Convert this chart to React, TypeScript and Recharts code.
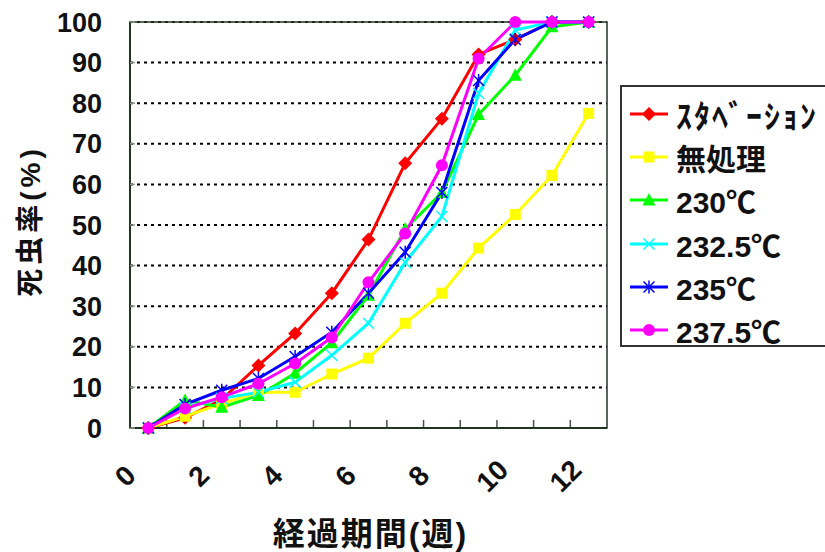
import React from "react"
import { LineChart, Line, XAxis, YAxis, CartesianGrid, Legend, Label, ReferenceArea, ReferenceLine } from "recharts"

const FONT = "'Liberation Sans', 'Noto Sans CJK JP', sans-serif"
const INK = "#111"

// weeks elapsed
const weeks = [0, 1, 2, 3, 4, 5, 6, 7, 8, 9, 10, 11, 12]
const weekLabels = [0, 2, 4, 6, 8, 10, 12]
const yTicks = [0, 10, 20, 30, 40, 50, 60, 70, 80, 90, 100]

// mortality (%)
const starvation = [0, 2.5, 7, 15.4, 23.3, 33.2, 46.4, 65.2, 76.2, 92, 95.7, 100, 100]
const untreated = [0, 2.9, 6, 8.8, 8.8, 13.3, 17.2, 25.8, 33.2, 44.3, 52.6, 62.2, 77.5]
const t230 = [0, 6.8, 5.1, 8, 13.5, 21, 32.7, 49, 58, 77.2, 86.9, 98.8, 100]
const t2325 = [0, 5, 7.3, 8.8, 11.3, 17.9, 25.8, 40.8, 52.1, 82.4, 98, 100, 100]
const t235 = [0, 5.8, 9.3, 12.2, 17.6, 23.6, 33.2, 43.3, 58, 85.6, 95.7, 100, 100]
const t2375 = [0, 4.8, 7.6, 10.9, 15.9, 22.3, 35.9, 47.9, 64.7, 91, 100, 100, 100]

const data = weeks.map((w, i) => ({
  x: w,
  starvation: starvation[i],
  untreated: untreated[i],
  t230: t230[i],
  t2325: t2325[i],
  t235: t235[i],
  t2375: t2375[i],
}))

// tick marks sit between the weeks, excel style
const boundaries = weeks.slice(1).map((w) => w - 0.5)

type Shape = "diamond" | "square" | "triangle" | "cross" | "star" | "circle"

const series: { key: string; name: string; color: string; shape: Shape }[] = [
  { key: "starvation", name: "ｽﾀﾍﾞｰｼｮﾝ", color: "#FF0000", shape: "diamond" },
  { key: "untreated", name: "無処理", color: "#FFFF00", shape: "square" },
  { key: "t230", name: "230℃", color: "#00FF00", shape: "triangle" },
  { key: "t2325", name: "232.5℃", color: "#00FFFF", shape: "cross" },
  { key: "t235", name: "235℃", color: "#0000FF", shape: "star" },
  { key: "t2375", name: "237.5℃", color: "#FF00FF", shape: "circle" },
]

function marker(shape: Shape, cx: number, cy: number, color: string, key?: any) {
  switch (shape) {
    case "diamond":
      return <polygon key={key} points={`${cx},${cy - 7} ${cx + 7},${cy} ${cx},${cy + 7} ${cx - 7},${cy}`} fill={color} />
    case "square":
      return <rect key={key} x={cx - 5.5} y={cy - 5.5} width={11} height={11} fill={color} />
    case "triangle":
      return <polygon key={key} points={`${cx},${cy - 7} ${cx + 6.5},${cy + 5.5} ${cx - 6.5},${cy + 5.5}`} fill={color} />
    case "cross":
      return (
        <g key={key} stroke={color} strokeWidth={1.5}>
          <line x1={cx - 5.5} y1={cy - 5.5} x2={cx + 5.5} y2={cy + 5.5} />
          <line x1={cx - 5.5} y1={cy + 5.5} x2={cx + 5.5} y2={cy - 5.5} />
        </g>
      )
    case "star":
      return (
        <g key={key} stroke={color} strokeWidth={1.5}>
          <line x1={cx - 5.5} y1={cy - 5.5} x2={cx + 5.5} y2={cy + 5.5} />
          <line x1={cx - 5.5} y1={cy + 5.5} x2={cx + 5.5} y2={cy - 5.5} />
          <line x1={cx} y1={cy - 6.5} x2={cx} y2={cy + 6.5} />
        </g>
      )
    default:
      return <circle key={key} cx={cx} cy={cy} r={6} fill={color} />
  }
}

const XTick = ({ x, y, payload }: any) => {
  const tx = x - 23
  const ty = y + 48
  return (
    <text
      x={tx}
      y={ty}
      transform={`rotate(-45 ${tx} ${ty})`}
      textAnchor="middle"
      dominantBaseline="central"
      fontSize={28}
      fontWeight="bold"
      fontFamily={FONT}
      fill={INK}
    >
      {payload.value}
    </text>
  )
}

const LegendBox = () => (
  <div
    style={{
      width: 215,
      height: 262,
      border: "2px solid #333",
      background: "#fff",
      boxSizing: "border-box",
      paddingTop: 5,
      paddingLeft: 7,
    }}
  >
    {series.map((s) => (
      <div key={s.key} style={{ display: "flex", alignItems: "center", height: 43.3 }}>
        <svg width={40} height={20}>
          <line x1={1} y1={10} x2={39} y2={10} stroke={s.color} strokeWidth={3} />
          {marker(s.shape, 20, 10, s.color)}
        </svg>
        <span
          style={{
            marginLeft: 7,
            fontSize: s.key === "starvation" ? 32 : 30,
            fontWeight: "bold",
            fontFamily: FONT,
            color: INK,
            whiteSpace: "nowrap",
            letterSpacing: s.key === "starvation" ? 2 : 0,
          }}
        >
          {s.name}
        </span>
      </div>
    ))}
  </div>
)

const YTitle = ({ viewBox }: any) => {
  const cx = viewBox.x + 30
  const cy = viewBox.y + viewBox.height / 2 - 4
  return (
    <text
      x={cx}
      y={cy}
      transform={`rotate(-90 ${cx} ${cy})`}
      textAnchor="middle"
      dominantBaseline="central"
      fontSize={28}
      fontWeight="bold"
      fontFamily={FONT}
      fill={INK}
      letterSpacing={4}
    >
      死虫率(%)
    </text>
  )
}

const XTitle = ({ viewBox }: any) => {
  const cx = viewBox.x + viewBox.width / 2 + 2
  const cy = viewBox.y + 106
  return (
    <text
      x={cx}
      y={cy}
      textAnchor="middle"
      dominantBaseline="central"
      fontSize={32}
      fontWeight="bold"
      fontFamily={FONT}
      fill={INK}
      letterSpacing={2}
    >
      経過期間(週)
    </text>
  )
}

export default function App() {
  return (
    <div style={{ position: "absolute", left: 0, top: 0, width: 825, height: 552, overflow: "hidden", background: "#fff" }}>
      <LineChart width={825} height={552} data={data} margin={{ top: 22, right: 218, bottom: 123, left: 0 }}>
        <CartesianGrid horizontal vertical={false} stroke="#000" strokeWidth={2} strokeDasharray="3 4" />
        <ReferenceArea x1={-0.5} x2={12.5} y1={0} y2={100} fill="none" stroke="#223322" strokeWidth={1.5} />
        {boundaries.map((b) => (
          <ReferenceLine
            key={b}
            segment={[{ x: b, y: 0 }, { x: b, y: 2 }]}
            stroke="#445544"
            strokeWidth={1.5}
          />
        ))}
        <XAxis
          dataKey="x"
          type="number"
          domain={[-0.5, 12.5]}
          ticks={weekLabels}
          interval={0}
          height={1}
          tickSize={0}
          tickMargin={0}
          tickLine={false}
          axisLine={{ stroke: "#223322", strokeWidth: 2 }}
          tick={<XTick />}
        >
          <Label content={<XTitle />} />
        </XAxis>
        <YAxis
          type="number"
          domain={[0, 100]}
          ticks={yTicks}
          interval={0}
          width={130}
          tickSize={-5}
          tickMargin={33}
          tickLine={{ stroke: "#889988", strokeWidth: 1.5 }}
          axisLine={{ stroke: "#223322", strokeWidth: 2 }}
          tick={{ fontSize: 27, fontWeight: "bold", fontFamily: FONT, fill: INK }}
        >
          <Label content={<YTitle />} />
        </YAxis>
        <Legend
          layout="vertical"
          align="center"
          verticalAlign="middle"
          wrapperStyle={{ left: 620, top: 85, width: 215 }}
          content={<LegendBox />}
        />
        {series.map((s) => (
          <Line
            key={s.key}
            dataKey={s.key}
            name={s.name}
            type="linear"
            stroke={s.color}
            strokeWidth={3}
            isAnimationActive={false}
            dot={(p: any) => marker(s.shape, p.cx, p.cy, s.color, `${s.key}-${p.index}`)}
            activeDot={false}
          />
        ))}
      </LineChart>
    </div>
  )
}
